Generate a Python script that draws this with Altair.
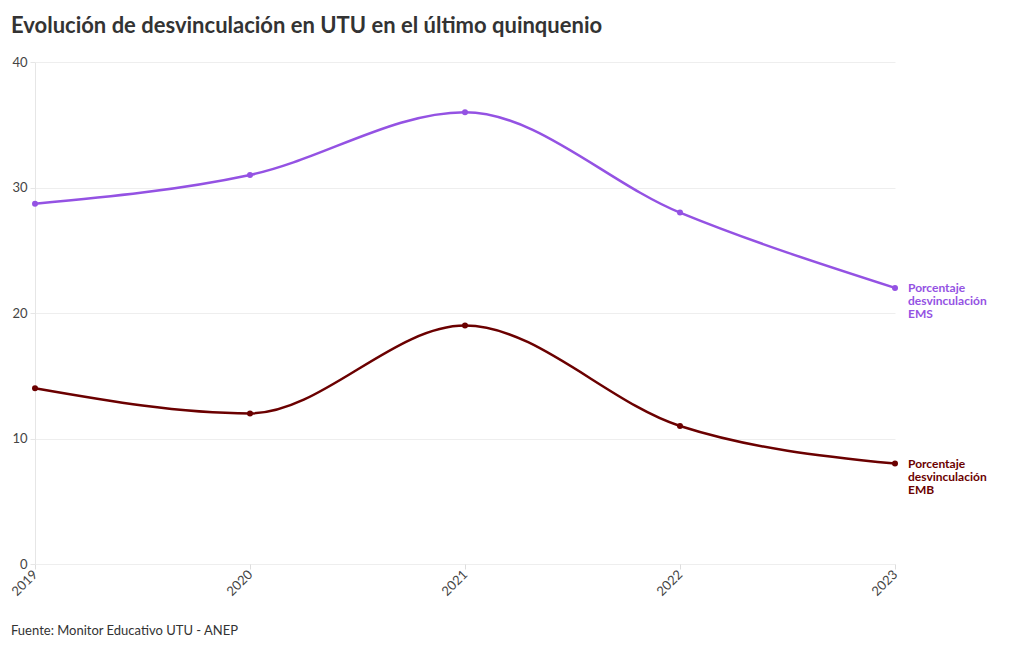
import altair as alt
import pandas as pd

years = ["2019", "2020", "2021", "2022", "2023"]
ems = [28.7, 31.0, 36.0, 28.0, 22.0]
emb = [14.0, 12.0, 19.0, 11.0, 8.0]
series_names = ["Porcentaje desvinculación EMS", "Porcentaje desvinculación EMB"]
series_labels = ["Porcentaje\ndesvinculación\nEMS", "Porcentaje\ndesvinculación\nEMB"]
colors = ["#9452e3", "#6b0000"]

rows = []
for name, label, vals in zip(series_names, series_labels, [ems, emb]):
    for y, v in zip(years, vals):
        rows.append({"year": y, "value": v, "series": name, "label": label})
df = pd.DataFrame(rows)

FONT = "Source Sans Pro, Lato, sans-serif"
W, H = 860, 502

x = alt.X("year:O", title=None, scale=alt.Scale(type="point", padding=0, domain=years),
          axis=alt.Axis(labelAngle=-45, labelAlign="right", labelBaseline="middle",
                        labelFontSize=13, labelColor="#444", labelFont=FONT,
                        domain=False, ticks=True, tickColor="#ddd", tickSize=5,
                        grid=False, labelPadding=3))
y = alt.Y("value:Q", title=None, scale=alt.Scale(domain=[0, 40]),
          axis=alt.Axis(values=[0, 10, 20, 30, 40], labelFontSize=13, labelColor="#444",
                        labelFont=FONT, domain=True, domainColor="#e6e6e6",
                        tickColor="#e6e6e6", tickSize=5, gridColor="#eeeeee", labelPadding=3))
color = alt.Color("series:N", scale=alt.Scale(domain=series_names, range=colors), legend=None)

base = alt.Chart(df).encode(x=x, y=y, color=color)
lines = base.mark_line(interpolate="monotone", strokeWidth=2.5)
points = base.mark_circle(size=36, opacity=1)
labels = base.transform_filter(alt.datum.year == "2023").mark_text(
    align="left", baseline="middle", dx=13, fontSize=12, fontWeight="bold",
    font=FONT, lineBreak="\n", lineHeight=13).encode(text="label:N")
source = alt.Chart(pd.DataFrame({"t": ["Fuente: Monitor Educativo UTU - ANEP"]})).mark_text(
    align="left", baseline="middle", fontSize=13, color="#333", font=FONT).encode(
    x=alt.value(-24), y=alt.value(H + 67), text="t:N")

chart = alt.layer(lines, points, labels, source).properties(
    width=W, height=H,
    title=alt.TitleParams("Evolución de desvinculación en UTU en el último quinquenio",
                          anchor="start", frame="group", fontSize=22, font=FONT,
                          fontWeight="bold", color="#333", dx=-24, offset=18),
    autosize=alt.AutoSizeParams(type="none"),
    padding={"left": 27, "top": 54, "right": 105, "bottom": 76},
).configure(background="white").configure_view(stroke=None)

chart.save("out.html", embed_options={"renderer": "svg", "actions": False})
